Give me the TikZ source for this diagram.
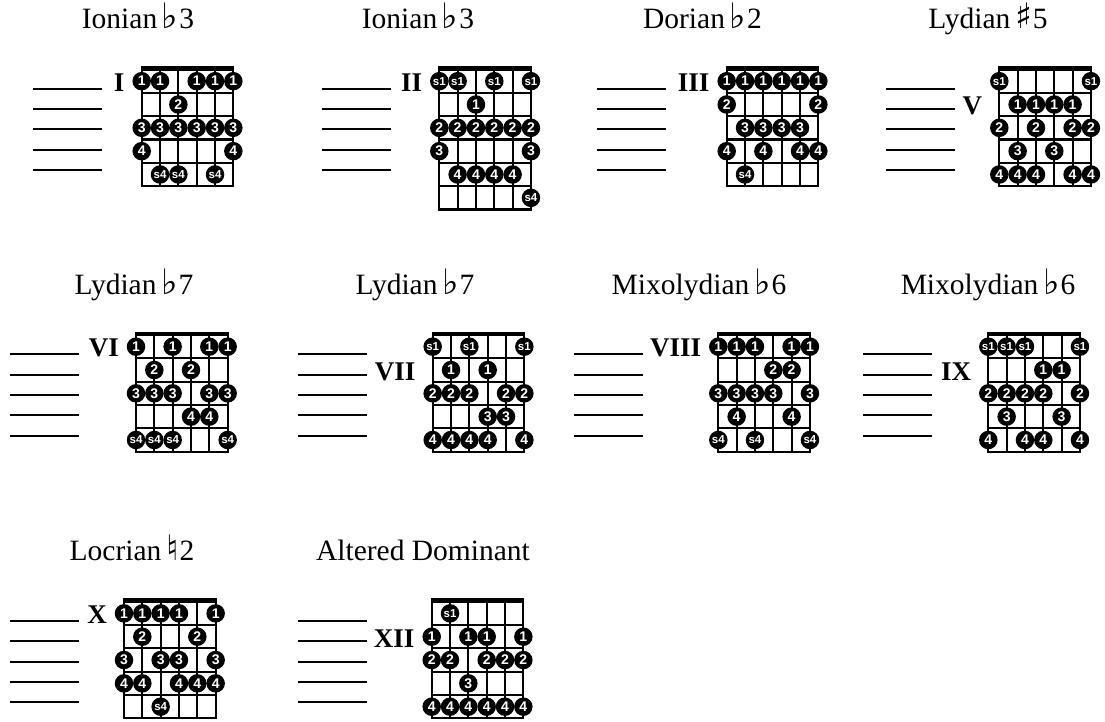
\documentclass[tikz,border=0pt]{standalone}
\usepackage{fontspec}
\setmainfont{Liberation Serif}
\newfontfamily\dotfont{Liberation Sans}
\newfontfamily\musfont{DejaVu Sans}
\newcommand\sm{\fontsize{11.5}{12}\selectfont}
\newcommand\acc[1]{\kern0.16em{\musfont\fontsize{35}{35}\selectfont #1}\kern0.03em}
\newcommand\fdiag[8]{%
 \begin{scope}[shift={(#2,#3)}]
  \foreach \i in {0,...,5} \draw[gridline] (\i*18.33,0) -- (\i*18.33,#4*23.33);
  \foreach \j in {1,...,#4} \draw[gridline] (-1.1,\j*23.33) -- (92.77,\j*23.33);
  \draw[nutline] (-1.1,-1.2) -- (92.77,-1.2);
  \node[numeral] (#1-num) at (-17,{(#6-0.5)*23.33+1.5}) {#5};
  \foreach \k in {0,...,4} \draw[blankline] ({#7-#2},{19.3+\k*20.3}) -- ({#7-#2+69},{19.3+\k*20.3});
  \foreach \s/\f/\t in {#8} \node[fdot] (#1-\s-\f) at ({(\s-1)*18.33},{(\f-0.5)*23.33}) {\t};
 \end{scope}}
\begin{document}
\begin{tikzpicture}[x=1pt,y=-1pt,
  gridline/.style={line width=2.2pt},
  nutline/.style={line width=4.5pt},
  blankline/.style={line width=2pt},
  fdot/.style={circle,fill=black,inner sep=0pt,minimum size=18.5pt,text=white,font=\dotfont\bfseries\fontsize{14}{14}\selectfont},
  title/.style={font=\fontsize{29.5}{34}\selectfont,anchor=base},
  numeral/.style={font=\bfseries\fontsize{27}{30}\selectfont,anchor=east,inner sep=0pt}]
\useasboundingbox (0,0) rectangle (1105,721);
\fill[white] (0,0) rectangle (1105,721);
% titles
\node[title] (t1) at (138,28.5) {Ionian\acc{♭}3};
\node[title] (t2) at (418,28.5) {Ionian\acc{♭}3};
\node[title] (t3) at (702.5,28.5) {Dorian\acc{♭}2};
\node[title] (t4) at (988,28.5) {Lydian\acc{♯}5};
\node[title] (t5) at (134,294) {Lydian\acc{♭}7};
\node[title] (t6) at (415,294) {Lydian\acc{♭}7};
\node[title] (t7) at (699,294) {Mixolydian\acc{♭}6};
\node[title] (t8) at (988,294) {Mixolydian\acc{♭}6};
\node[title] (t9) at (132,560.5) {Locrian\acc{♮}2};
\node[title] (t10) at (423,560.5) {Altered Dominant};
% diagrams
\fdiag{d1}{141.7}{69.5}{5}{I}{1}{33}{1/1/1,2/1/1,4/1/1,5/1/1,6/1/1,3/2/2,1/3/3,2/3/3,3/3/3,4/3/3,5/3/3,6/3/3,1/4/4,6/4/4,2/5/{\sm s4},3/5/{\sm s4},5/5/{\sm s4}}
\fdiag{d2}{439.3}{69.5}{6}{II}{1}{321.7}{1/1/{\sm s1},2/1/{\sm s1},4/1/{\sm s1},6/1/{\sm s1},3/2/1,1/3/2,2/3/2,3/3/2,4/3/2,5/3/2,6/3/2,1/4/3,6/4/3,2/5/4,3/5/4,4/5/4,5/5/4,6/6/{\sm s4}}
\fdiag{d3}{726.7}{69.5}{5}{III}{1}{597}{1/1/1,2/1/1,3/1/1,4/1/1,5/1/1,6/1/1,1/2/2,6/2/2,2/3/3,3/3/3,4/3/3,5/3/3,1/4/4,3/4/4,5/4/4,6/4/4,2/5/{\sm s4}}
\fdiag{d4}{999.3}{69.5}{5}{V}{2}{886}{1/1/{\sm s1},6/1/{\sm s1},2/2/1,3/2/1,4/2/1,5/2/1,1/3/2,3/3/2,5/3/2,6/3/2,2/4/3,4/4/3,1/5/4,2/5/4,3/5/4,5/5/4,6/5/4}
\fdiag{d5}{136}{335}{5}{VI}{1}{10}{1/1/1,3/1/1,5/1/1,6/1/1,2/2/2,4/2/2,1/3/3,2/3/3,3/3/3,5/3/3,6/3/3,4/4/4,5/4/4,1/5/{\sm s4},2/5/{\sm s4},3/5/{\sm s4},6/5/{\sm s4}}
\fdiag{d6}{432.7}{335}{5}{VII}{2}{298.3}{1/1/{\sm s1},3/1/{\sm s1},6/1/{\sm s1},2/2/1,4/2/1,1/3/2,2/3/2,3/3/2,5/3/2,6/3/2,4/4/3,5/4/3,1/5/4,2/5/4,3/5/4,4/5/4,6/5/4}
\fdiag{d7}{718.3}{335}{5}{VIII}{1}{574}{1/1/1,2/1/1,3/1/1,5/1/1,6/1/1,4/2/2,5/2/2,1/3/3,2/3/3,3/3/3,4/3/3,6/3/3,2/4/4,5/4/4,1/5/{\sm s4},3/5/{\sm s4},6/5/{\sm s4}}
\fdiag{d8}{988.3}{335}{5}{IX}{2}{863.3}{1/1/{\sm s1},2/1/{\sm s1},3/1/{\sm s1},6/1/{\sm s1},4/2/1,5/2/1,1/3/2,2/3/2,3/3/2,4/3/2,6/3/2,2/4/3,5/4/3,1/5/4,3/5/4,4/5/4,6/5/4}
\fdiag{d9}{124}{601.7}{5}{X}{1}{10}{1/1/1,2/1/1,3/1/1,4/1/1,6/1/1,2/2/2,5/2/2,1/3/3,3/3/3,4/3/3,6/3/3,1/4/4,2/4/4,4/4/4,5/4/4,6/4/4,3/5/{\sm s4}}
\fdiag{d10}{431.7}{601.7}{5}{XII}{2}{298.3}{2/1/{\sm s1},1/2/1,3/2/1,4/2/1,6/2/1,1/3/2,2/3/2,4/3/2,5/3/2,6/3/2,3/4/3,1/5/4,2/5/4,3/5/4,4/5/4,5/5/4,6/5/4}
\end{tikzpicture}
\end{document}
